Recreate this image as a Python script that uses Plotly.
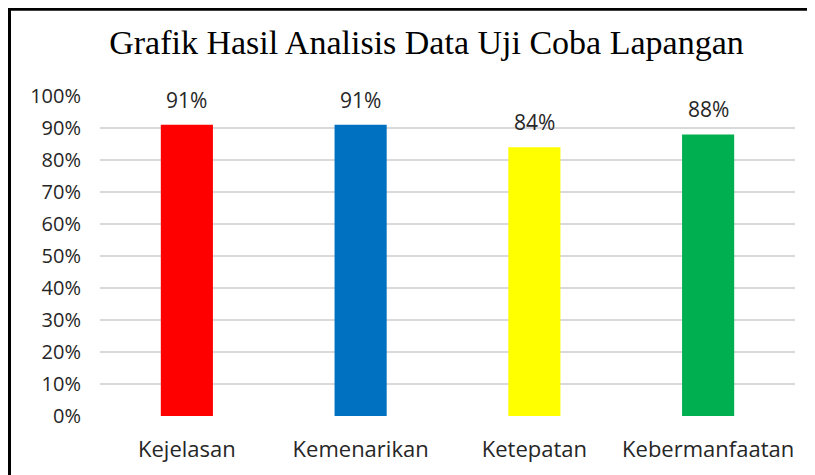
import plotly.graph_objects as go

categories = ["Kejelasan", "Kemenarikan", "Ketepatan", "Kebermanfaatan"]
values = [0.91, 0.91, 0.84, 0.88]
colors = ["#FF0000", "#0070C0", "#FFFF00", "#00B050"]
title_text = "Grafik Hasil Analisis Data Uji Coba Lapangan"

SANS = "Open Sans"
TXT = "#262626"

fig = go.Figure(go.Bar(x=categories, y=values, marker=dict(color=colors, line=dict(width=0)),
                       hoverinfo="skip"))

for c, v in zip(categories, values):
    fig.add_annotation(x=c, y=v, text=f"{round(v*100)}%", showarrow=False,
                       yanchor="middle", yshift=25,
                       font=dict(family=SANS, size=21, color=TXT))

# page body adds an 8px offset; coordinates below are in screen pixels
OFF = 8
L, R, T, B = 100 - OFF, 20, 96 - OFF, 59
W, H = 815 - OFF, 475 - OFF
pw, ph = W - L - R, H - T - B
def px(x):
    return (x - OFF - L) / pw
def py(y):
    return (H - B - (y - OFF)) / ph

fig.add_shape(type="line", xref="paper", yref="paper", x0=px(9.5), x1=px(9.5), y0=py(8), y1=py(480),
              line=dict(color="black", width=3))
fig.add_shape(type="line", xref="paper", yref="paper", x0=px(8), x1=px(820), y0=py(9.2), y1=py(9.2),
              line=dict(color="black", width=3))

fig.update_layout(
    width=W, height=H,
    margin=dict(l=L, r=R, t=T, b=B),
    paper_bgcolor="white", plot_bgcolor="white",
    bargap=0.70,
    showlegend=False,
    title=dict(text=title_text, x=px(426.5), xref="paper", xanchor="center",
               y=1 - (42 - OFF) / H, yanchor="middle",
               font=dict(family="Liberation Serif", size=34, color="black")),
    xaxis=dict(showgrid=False, showline=False, zeroline=False, ticklabelstandoff=18,
               tickfont=dict(family=SANS, size=22, color=TXT)),
    yaxis=dict(range=[0, 1], dtick=0.1, tickformat=".0%", showgrid=True, gridcolor="#D9D9D9",
               gridwidth=1.5, zeroline=False, showline=False, ticklabelstandoff=18,
               tickfont=dict(family=SANS, size=20, color=TXT)),
)

fig.write_html("out.html")
